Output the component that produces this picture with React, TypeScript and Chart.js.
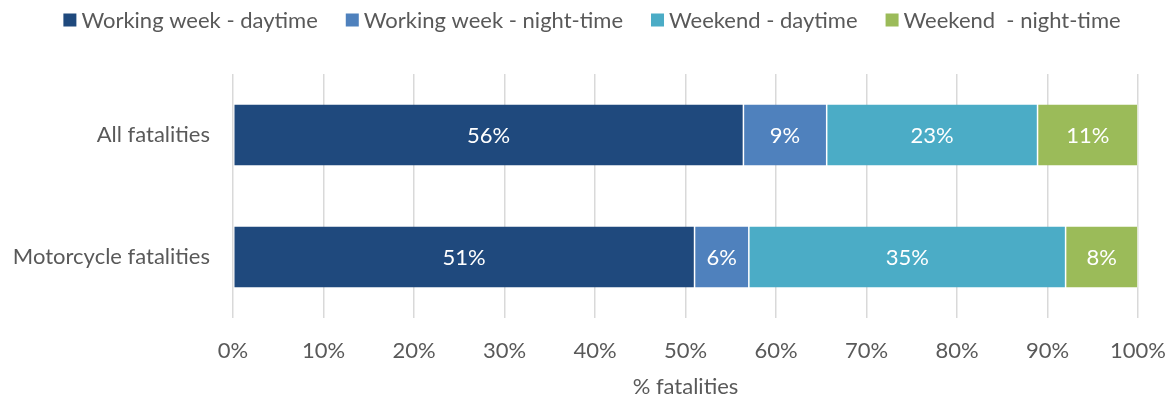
import React, { useEffect, useRef } from "react";
import { Chart, registerables } from "chart.js";

Chart.register(...registerables);

const categories = ["All fatalities", "Motorcycle fatalities"];
const seriesNames = [
  "Working week - daytime",
  "Working week - night-time",
  "Weekend - daytime",
  "Weekend  - night-time",
];
const workWeekDay = [56.4, 51.0];
const workWeekNight = [9.2, 6.0];
const weekendDay = [23.3, 35.0];
const weekendNight = [11.1, 8.0];
const colors = ["#1F497D", "#4F81BD", "#4BACC6", "#9BBB59"];
const xTicks = [0, 10, 20, 30, 40, 50, 60, 70, 80, 90, 100];

const FONT = "Lato, 'Open Sans', sans-serif";
const TEXT = "#595959";

const labelPlugin = {
  id: "barLabels",
  afterDatasetsDraw(chart: any) {
    const ctx = chart.ctx;
    ctx.save();
    ctx.fillStyle = "#ffffff";
    ctx.font = `22px ${FONT}`;
    ctx.textAlign = "center";
    ctx.textBaseline = "middle";
    chart.data.datasets.forEach((ds: any, i: number) => {
      const meta = chart.getDatasetMeta(i);
      meta.data.forEach((bar: any, j: number) => {
        const v = ds.data[j];
        const cx = (bar.x + bar.base) / 2;
        ctx.fillText(Math.round(v) + "%", cx, bar.y + 1);
      });
    });
    ctx.restore();
  },
};

const legendPlugin = {
  id: "customLegend",
  afterDraw(chart: any) {
    const ctx = chart.ctx;
    ctx.save();
    ctx.font = `22px ${FONT}`;
    ctx.textBaseline = "middle";
    ctx.textAlign = "left";
    const box = 13;
    const gapBoxText = 5;
    const gapItems = 28;
    const widths = chart.data.datasets.map(
      (ds: any) => box + gapBoxText + ctx.measureText(ds.label).width
    );
    const total = widths.reduce((a: number, b: number) => a + b, 0) + gapItems * (widths.length - 1);
    let x = (chart.width - total) / 2 + 6;
    const y = 20;
    chart.data.datasets.forEach((ds: any, i: number) => {
      ctx.fillStyle = ds.backgroundColor;
      ctx.fillRect(x, y - box / 2, box, box);
      ctx.fillStyle = TEXT;
      ctx.fillText(ds.label, x + box + gapBoxText, y + 1);
      x += widths[i] + gapItems;
    });
    ctx.restore();
  },
};

export default function App() {
  const ref = useRef<HTMLCanvasElement | null>(null);
  useEffect(() => {
    document.body.style.margin = "0";
    const seriesData = [workWeekDay, workWeekNight, weekendDay, weekendNight];
    const chart = new Chart(ref.current!, {
      type: "bar",
      data: {
        labels: categories,
        datasets: seriesNames.map((name, i) => ({
          label: name,
          data: seriesData[i],
          backgroundColor: colors[i],
          borderColor: "#ffffff",
          borderWidth: { left: 0.75, right: 0.75, top: 0, bottom: 0 } as any,
          borderSkipped: false,
          categoryPercentage: 0.5,
          barPercentage: 1.0,
        })),
      },
      options: {
        indexAxis: "y",
        animation: false,
        responsive: false,
        maintainAspectRatio: false,
        layout: { padding: { left: 0, right: 34, top: 74, bottom: 0 } },
        plugins: {
          legend: { display: false },
          tooltip: { enabled: false },
        },
        scales: {
          x: {
            stacked: true,
            min: 0,
            max: 100,
            afterBuildTicks: (axis: any) => {
              axis.ticks = xTicks.map((v) => ({ value: v }));
            },
            afterFit: (axis: any) => {
              axis.height = 85;
              axis.paddingLeft = 0;
              axis.paddingRight = 0;
            },
            ticks: {
              callback: (v: any) => v + "%",
              font: { family: FONT, size: 22 },
              color: TEXT,
              padding: 20,
            },
            grid: { color: "#d9d9d9", lineWidth: 1.5, drawTicks: false },
            border: { display: false },
            title: {
              display: true,
              text: "% fatalities",
              font: { family: FONT, size: 22 },
              color: TEXT,
              padding: { top: 0, bottom: 3 },
            },
          },
          y: {
            stacked: true,
            afterFit: (axis: any) => {
              axis.width = 233;
            },
            ticks: {
              font: { family: FONT, size: 22 },
              color: TEXT,
              padding: 23,
            },
            grid: { display: false, drawTicks: false },
            border: { display: false },
          },
        },
      },
      plugins: [labelPlugin, legendPlugin],
    });
    return () => chart.destroy();
  }, []);
  return <canvas ref={ref} width={1172} height={403} style={{ display: "block" }} />;
}
